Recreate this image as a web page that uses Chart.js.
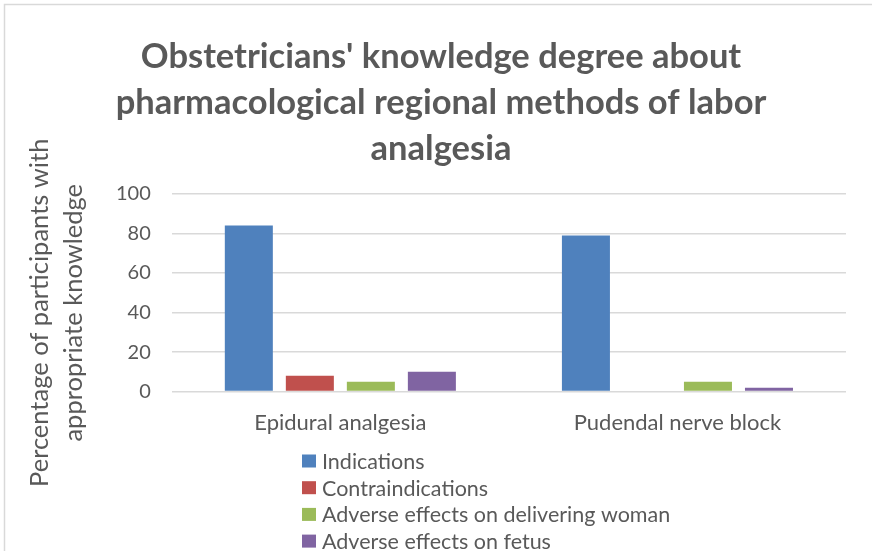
<!DOCTYPE html>
<html><head><meta charset="utf-8">
<script src="https://cdn.jsdelivr.net/npm/chart.js@4/dist/chart.umd.min.js"></script>
<style>html,body{margin:0;padding:0;background:#fff;overflow:hidden}#wrap{width:872px;height:551px;position:relative}</style>
</head><body><div id="wrap"><canvas id="c" width="872" height="551"></canvas></div>
<script>
const categories = ['Epidural analgesia', 'Pudendal nerve block'];
const seriesNames = ['Indications', 'Contraindications', 'Adverse effects on delivering woman', 'Adverse effects on fetus'];
const indications = [84, 79];
const contraindications = [8, 0];
const adverseWoman = [5, 5];
const adverseFetus = [10, 2];
const yTickValues = [0, 20, 40, 60, 80, 100];
const titleLines = ["Obstetricians' knowledge degree about", 'pharmacological regional methods of labor', 'analgesia'];
const yTitleLines = ['Percentage of participants with', 'appropriate knowledge'];
const seriesColors = ['#4f81bd', '#c0504d', '#9bbb59', '#8064a2'];

const textColor = '#595959';
const FONT = 'Lato, "Open Sans", sans-serif';

const borderPlugin = {
  id: 'outerBorder',
  beforeDraw(chart) {
    const ctx = chart.ctx;
    ctx.save();
    ctx.fillStyle = '#ffffff';
    ctx.fillRect(0, 0, chart.width, chart.height);
    ctx.strokeStyle = '#d9d9d9';
    ctx.lineWidth = 1.5;
    ctx.strokeRect(4.5, 4.5, chart.width + 10, chart.height + 10);
    ctx.restore();
  }
};

// Excel centres the rotated axis title a little below the plot-area centre
const yTitleShift = {
  id: 'yTitleShift',
  afterLayout(chart) {
    chart.scales.y.bottom += 40;
  }
};

const legendPlugin = {
  id: 'verticalLegend',
  afterDraw(chart) {
    const ctx = chart.ctx;
    const startY = chart.height - 90;
    const rowH = 26.7;
    const left = 302;
    ctx.save();
    ctx.font = '21.5px ' + FONT;
    ctx.textBaseline = 'middle';
    ctx.textAlign = 'left';
    chart.data.datasets.forEach((ds, i) => {
      const y = startY + i * rowH;
      ctx.fillStyle = ds.backgroundColor;
      ctx.fillRect(left, y - 6.5, 14, 13);
      ctx.fillStyle = textColor;
      ctx.fillText(ds.label, left + 20, y + 1);
    });
    ctx.restore();
  }
};

const seriesData = [indications, contraindications, adverseWoman, adverseFetus];

new Chart(document.getElementById('c'), {
  type: 'bar',
  data: {
    labels: categories,
    datasets: seriesNames.map((name, i) => ({
      label: name,
      data: seriesData[i],
      backgroundColor: seriesColors[i],
      borderWidth: 0,
      categoryPercentage: 0.724,
      barPercentage: 0.787
    }))
  },
  options: {
    responsive: false,
    animation: false,
    devicePixelRatio: 1,
    layout: { padding: { left: 36, right: 26, top: 0, bottom: 105 } },
    plugins: {
      legend: { display: false },
      tooltip: { enabled: false },
      title: {
        display: true,
        text: titleLines,
        color: textColor,
        font: { family: FONT, size: 34.5, weight: 'bold', lineHeight: 46 / 34.5 },
        padding: { top: 34, bottom: 22 }
      }
    },
    scales: {
      x: {
        grid: { display: false },
        border: { display: false },
        ticks: { color: textColor, font: { family: FONT, size: 22 }, padding: 10 }
      },
      y: {
        min: 0,
        max: 100,
        afterBuildTicks(scale) { scale.ticks = yTickValues.map(v => ({ value: v })); },
        grid: { color: '#d9d9d9', lineWidth: 1.5, drawTicks: false },
        border: { display: false },
        ticks: { color: textColor, font: { family: FONT, size: 20 }, padding: 21 },
        title: {
          display: true,
          text: yTitleLines,
          color: textColor,
          font: { family: FONT, size: 25.5, lineHeight: 34 / 25.5 },
          padding: { top: -13, bottom: 4 }
        }
      }
    }
  },
  plugins: [borderPlugin, yTitleShift, legendPlugin]
});
</script>
</body></html>
